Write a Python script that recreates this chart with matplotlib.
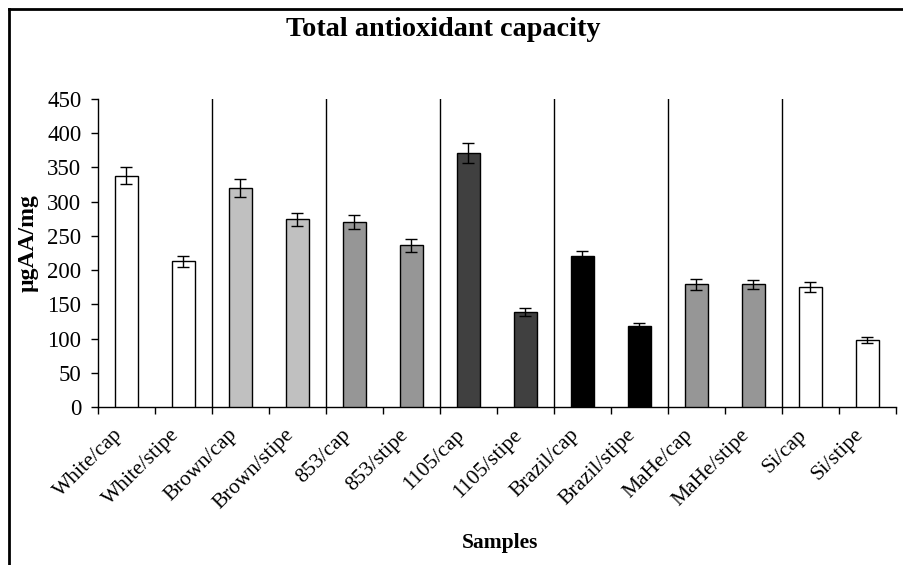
import matplotlib
matplotlib.use("Agg")
import matplotlib.pyplot as plt
from matplotlib.lines import Line2D
import numpy as np

plt.rcParams['font.family'] = ['Liberation Serif', 'DejaVu Serif']

samples = ["White/cap", "White/stipe", "Brown/cap", "Brown/stipe",
           "853/cap", "853/stipe", "1105/cap", "1105/stipe",
           "Brazil/cap", "Brazil/stipe", "MaHe/cap", "MaHe/stipe",
           "Si/cap", "Si/stipe"]
values = [338, 213, 320, 274, 270, 236, 371, 139, 220, 118, 179, 179, 175, 98]
errors = [12, 8, 13, 10, 10, 10, 14, 6, 8, 4, 8, 7, 7, 4]
colors = ["white", "white", "#c0c0c0", "#c0c0c0", "#969696", "#969696",
          "#404040", "#404040", "black", "black", "#969696", "#969696",
          "white", "white"]

fig = plt.figure(figsize=(9.04, 5.65), dpi=100)
ax = fig.add_axes([98 / 904, 1 - 407 / 565, 798 / 904, 308 / 565])

x = np.arange(len(samples))
ax.bar(x, values, width=0.4, color=colors, edgecolor="black", linewidth=1, zorder=3)
ax.errorbar(x, values, yerr=errors, fmt="none", ecolor="black",
            elinewidth=1, capsize=4, capthick=1, zorder=4)

# separator lines between sample groups
for b in np.arange(1.5, len(samples) - 1, 2):
    ax.axvline(b, color="black", linewidth=1, zorder=2)

ax.set_xlim(-0.5, len(samples) - 0.5)
ax.set_ylim(0, 450)
ax.set_yticks(range(0, 451, 50))
ax.set_xticks(np.arange(-0.5, len(samples), 1))
ax.set_xticklabels([])
# labels sit on invisible minor ticks, a bit left of the bar centres
ax.set_xticks(x - 0.115, minor=True)
ax.set_xticklabels(samples, minor=True, rotation=45, ha="right", va="center",
                   rotation_mode="anchor", fontsize=15.5)
ax.tick_params(axis="x", which="minor", length=0, pad=18)
ax.tick_params(axis="x", which="major", direction="out", length=5, width=1)
ax.tick_params(axis="y", direction="out", length=5, width=1, labelsize=16.5, pad=7)

for s in ["top", "right"]:
    ax.spines[s].set_visible(False)
for s in ["left", "bottom"]:
    ax.spines[s].set_linewidth(1)

fig.text(28 / 904, 1 - 243 / 565, "µgAA/mg", fontsize=17, fontweight="bold",
         rotation=90, ha="center", va="center")
fig.text(500 / 904, 1 - 543 / 565, "Samples", fontsize=15.5, fontweight="bold",
         ha="center", va="center")
fig.text(443 / 904, 1 - 30 / 565, "Total antioxidant capacity", fontsize=20.3,
         fontweight="bold", ha="center", va="center")

# outer frame (left and top edges only are visible)
fig.add_artist(Line2D([9 / 904, 9 / 904], [0, 1 - 9 / 565], color="black",
                      linewidth=2, transform=fig.transFigure))
fig.add_artist(Line2D([9 / 904, 1], [1 - 9 / 565, 1 - 9 / 565], color="black",
                      linewidth=2, transform=fig.transFigure))

fig.savefig("out.png", dpi=100)
